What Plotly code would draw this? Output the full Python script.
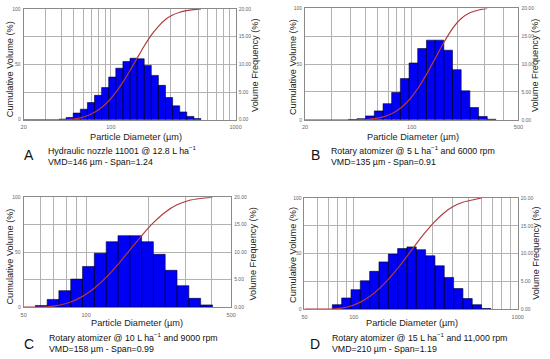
import math
import plotly.graph_objects as go

# ---------------- data ----------------
BIN_EDGES = [38.4, 43.8, 49.9, 56.9, 64.9, 73.9, 84.3, 96.1, 109.5, 124.9, 142.4,
             162.3, 185.0, 210.9, 240.4, 274.1, 312.5, 356.2, 406.1, 463.0,
             527.8, 601.7, 685.9]

A_first = 0
A_freq = [0.1, 0.4, 1.2, 1.9, 3.1, 4.4, 5.8, 7.7, 9.3, 10.5, 11.1, 11.0, 9.8, 8.0,
          6.2, 4.0, 2.5, 1.4, 0.6, 0.2]
A_cum = [0.1, 0.5, 1.7, 3.6, 6.7, 11.1, 16.9, 24.6, 33.9, 44.4, 55.5, 66.5, 76.3,
         84.3, 90.5, 94.5, 97.0, 98.5, 99.4, 100.0]

B_first = 0
B_freq = [0.06, 0.2, 0.7, 1.6, 2.9, 4.9, 7.4, 10.2, 12.8, 14.3, 14.3, 12.5, 9.0,
          5.2, 2.2, 0.6, 0.1]
B_cum = [0.1, 0.3, 1.0, 2.6, 5.5, 10.4, 17.8, 28.0, 40.8, 55.1, 69.4, 81.9, 90.9,
         96.1, 98.6, 100.0]

C_first = 3
C_freq = [0.3, 1.4, 3.0, 5.1, 7.4, 9.8, 11.9, 13.0, 13.0, 11.9, 9.6, 6.7, 3.9, 1.6, 0.4]
C_cum = [0.3, 1.7, 4.7, 9.8, 17.2, 27.0, 38.9, 51.9, 64.9, 76.8, 86.4, 93.1, 97.0,
         98.8, 100.0]

D_first = 5
D_freq = [0.8, 2.0, 3.5, 5.1, 6.8, 8.5, 9.9, 10.9, 11.2, 10.7, 9.6, 7.8, 5.7, 3.7,
          1.9, 0.8, 0.1]
D_cum = [0.8, 2.8, 6.3, 11.4, 18.2, 26.7, 36.6, 47.5, 58.7, 69.4, 79.0, 86.8, 92.5,
         96.2, 98.2, 100.0]

X_RANGES = {"A": (20, 1000), "B": (20, 500), "C": (50, 500), "D": (50, 1000)}
GRID_D = [20, 30, 40, 50, 60, 70, 80, 90, 100, 200, 300, 400, 500, 600, 700, 800, 900, 1000]
X_LABELS = {"A": [20, 100, 1000], "B": [20, 100, 500], "C": [50, 100, 500], "D": [50, 100, 1000]}
FREQ_TICKS = [0, 5, 10, 15, 20]
CUM_TICKS = [0, 50, 100]

CAP1 = {
    "A": "Hydraulic nozzle 11001 @ 12.8 L ha<sup>−1</sup>",
    "B": "Rotary atomizer @ 5 L ha<sup>−1</sup> and 6000 rpm",
    "C": "Rotary atomizer @ 10 L ha<sup>−1</sup> and 9000 rpm",
    "D": "Rotary atomizer @ 15 L ha<sup>−1</sup> and 11,000 rpm",
}
CAP2 = {
    "A": "VMD=146 µm - Span=1.24",
    "B": "VMD=135 µm - Span=0.91",
    "C": "VMD=158 µm - Span=0.99",
    "D": "VMD=210 µm - Span=1.19",
}

# ---------------- layout geometry (pixels) ----------------
W, H = 550, 359
FONT = "Liberation Sans, Arial, sans-serif"
PANELS = {
    "A": dict(box=(21, 236.5, 6, 118.7), xt=135.5, xty=136.7, lyx=7.5, lyy=67, ryx=256.7, ryy=63.5,
              let=(26, 154.5), capx=44, capy=155.3),
    "B": dict(box=(307, 524, 5.5, 118.8), xt=416.5, xty=136.7, lyx=295, lyy=65, ryx=541, ryy=64,
              let=(317.5, 155), capx=331.5, capy=155.2),
    "C": dict(box=(21, 232, 197.5, 309.3), xt=136, xty=325.7, lyx=7.5, lyy=257.5, ryx=254, ryy=255,
              let=(26, 346.7), capx=45, capy=345.0),
    "D": dict(box=(306.5, 523.3, 198.3, 311.3), xt=416.2, xty=325.7, lyx=295, lyy=256, ryx=542, ryy=255,
              let=(317.5, 346.7), capx=332.3, capy=345.5),
}
DATA = {"A": (A_first, A_freq, A_cum), "B": (B_first, B_freq, B_cum),
        "C": (C_first, C_freq, C_cum), "D": (D_first, D_freq, D_cum)}

BAR_FILL = "#0000f5"
BAR_LINE = "#00002a"
CUM_COLOR = "#b03c3c"
GRID = "#b2b2b2"
FRAME = "#8a8a8a"
TICKC = "#666666"

fig = go.Figure()
layout = dict(width=W, height=H, margin=dict(l=0, r=0, t=0, b=0),
              paper_bgcolor="white", plot_bgcolor="white", showlegend=False,
              font=dict(family=FONT, color="#222"))
annotations = []


def px(x):
    return x / W


def py(y):
    return 1 - y / H


for i, key in enumerate(["A", "B", "C", "D"], start=1):
    p = PANELS[key]
    x0, x1, yt, yb = p["box"]
    first, freq, cum = DATA[key]
    lo, hi = X_RANGES[key]
    xa = "x" if i == 1 else f"x{i}"
    yf = 2 * i - 1
    yc = 2 * i
    yfa = "y" if yf == 1 else f"y{yf}"
    yca = f"y{yc}"

    # bars as closed rectangles from bin edges and frequencies
    bx, by = [], []
    for k, h in enumerate(freq):
        l = BIN_EDGES[first + k]
        r = BIN_EDGES[first + k + 1]
        bx += [l, l, r, r, l, None]
        by += [0, h, h, 0, 0, None]
    fig.add_trace(go.Scatter(x=bx, y=by, xaxis=xa, yaxis=yfa, mode="lines",
                             fill="toself", fillcolor=BAR_FILL,
                             line=dict(color=BAR_LINE, width=0.6), hoverinfo="skip"))

    # cumulative curve
    cx = [lo, BIN_EDGES[first]] + BIN_EDGES[first + 1: first + 1 + len(cum)]
    cy = [0, 0] + cum
    fig.add_trace(go.Scatter(x=cx, y=cy, xaxis=xa, yaxis=yca, mode="lines",
                             line=dict(color=CUM_COLOR, width=1.2, shape="spline", smoothing=0.6),
                             hoverinfo="skip"))

    grid = [g for g in GRID_D if lo <= g <= hi]
    labels = X_LABELS[key]
    layout["xaxis" if i == 1 else f"xaxis{i}"] = dict(
        type="log", range=[math.log10(lo), math.log10(hi)],
        domain=[px(x0), px(x1)], anchor=yfa,
        tickmode="array", tickvals=labels, ticktext=[str(g) for g in labels],
        tickangle=0,
        showgrid=True, gridcolor=GRID, gridwidth=1,
        minor=dict(tickmode="array", tickvals=grid, showgrid=True, gridcolor=GRID,
                   gridwidth=1, ticks=""),
        showline=True, mirror=True, linecolor=FRAME, linewidth=1,
        ticks="", zeroline=False, ticklabelstandoff=2,
        tickfont=dict(size=5.5, color=TICKC, family=FONT))
    layout["yaxis" if yf == 1 else f"yaxis{yf}"] = dict(
        range=[0, 20], domain=[py(yb), py(yt)], anchor=xa, side="right",
        tickvals=FREQ_TICKS, ticktext=[f"{v:.2f}" for v in FREQ_TICKS],
        showgrid=True, gridcolor=GRID, gridwidth=1,
        showline=True, mirror=True, linecolor=FRAME, linewidth=1,
        ticks="", zeroline=False, ticklabelstandoff=1,
        tickfont=dict(size=5, color=TICKC, family=FONT))
    layout[f"yaxis{yc}"] = dict(
        range=[0, 100], overlaying=yfa, anchor=xa, side="left",
        tickvals=CUM_TICKS, ticktext=[str(v) for v in CUM_TICKS],
        showgrid=False, showline=False, zeroline=False, ticks="", ticklabelstandoff=2,
        tickfont=dict(size=5, color=TICKC, family=FONT))

    tf = dict(family=FONT, size=9.2, color="#222")
    annotations += [
        dict(text="Particle Diameter (µm)", x=px(p["xt"]), y=py(p["xty"]), xref="paper", yref="paper",
             showarrow=False, xanchor="center", yanchor="middle", font=tf),
        dict(text="Cumulative Volume (%)", x=px(p["lyx"]), y=py(p["lyy"]), xref="paper", yref="paper",
             showarrow=False, xanchor="center", yanchor="middle", textangle=-90, font=tf),
        dict(text="Volume Frequency (%)", x=px(p["ryx"]), y=py(p["ryy"]), xref="paper", yref="paper",
             showarrow=False, xanchor="center", yanchor="middle", textangle=-90, font=tf),
        dict(text=key, x=px(p["let"][0]), y=py(p["let"][1]), xref="paper", yref="paper",
             showarrow=False, xanchor="center", yanchor="middle",
             font=dict(family=FONT, size=14, color="#111")),
        dict(text=CAP1[key] + "<br>" + CAP2[key], x=px(p["capx"]), y=py(p["capy"]),
             xref="paper", yref="paper", showarrow=False, xanchor="left", yanchor="middle",
             align="left", font=dict(family=FONT, size=8.8, color="#111")),
    ]

layout["annotations"] = annotations
fig.update_layout(**layout)
fig.write_html("out.html", config={"displayModeBar": False},
               post_script="document.body.style.margin='0';document.body.style.padding='0';"
                           "document.body.style.overflow='hidden';")
